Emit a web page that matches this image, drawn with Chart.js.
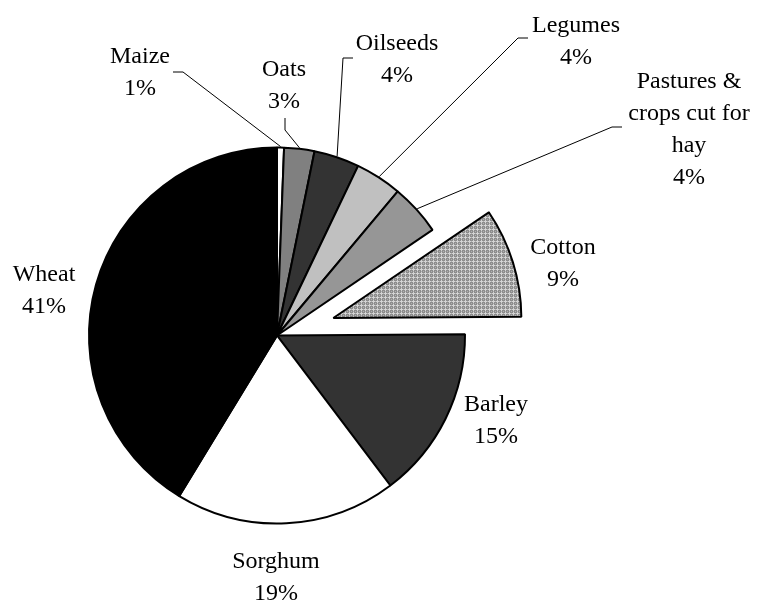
<!DOCTYPE html>
<html>
<head>
<meta charset="utf-8">
<script src="https://cdn.jsdelivr.net/npm/chart.js@4/dist/chart.umd.min.js"></script>
<style>
  body { margin: 0; background: #fff; }
  canvas { display: block; }
</style>
</head>
<body>
<canvas id="cropChart" width="757" height="603"></canvas>
<script>
// share of crop area (%)
const categories = ['Maize', 'Oats', 'Oilseeds', 'Legumes', ['Pastures &', 'crops cut for', 'hay'], 'Cotton', 'Barley', 'Sorghum', 'Wheat'];
const shares = [0.6, 2.6, 3.9, 4.0, 4.4, 9.4, 14.8, 19.0, 41.3];

const FONT = '24px "Liberation Serif", "Times New Roman", serif';
const LINE_H = 32;
const EXPLODED = 5;      // Cotton slice pulled out
const EXPLODE_PX = 59;

// label anchors: centre x, baseline of first line; leader: polyline start before it runs to the slice
const labelPos = [
    { x: 140, y: 63, leader: [[173, 72], [183, 72]] },
    { x: 284, y: 76, leader: [[285, 118], [285, 130]] },
    { x: 397, y: 50, leader: [[353, 58], [343, 58]] },
    { x: 576, y: 32, leader: [[528, 38], [518, 38]] },
    { x: 689, y: 88, leader: [[622, 127], [612, 127]] },
    { x: 563, y: 254 },
    { x: 496, y: 411 },
    { x: 276, y: 568 },
    { x: 44, y: 281 }
];

// grey cross-hatch fill for Cotton
function makeHatch() {
    const c = document.createElement('canvas');
    c.width = 4; c.height = 4;
    const g = c.getContext('2d');
    g.fillStyle = '#8c8c8c';
    g.fillRect(0, 0, 4, 4);
    g.fillStyle = '#d4d4d4';
    g.fillRect(1, 0, 1, 1); g.fillRect(0, 1, 1, 1);
    g.fillRect(1, 1, 1, 1); g.fillRect(2, 1, 1, 1); g.fillRect(1, 2, 1, 1);
    g.fillStyle = '#b0b0b0';
    g.fillRect(3, 3, 1, 1); g.fillRect(3, 1, 1, 1); g.fillRect(1, 3, 1, 1);
    return g.createPattern(c, 'repeat');
}

const ctx = document.getElementById('cropChart').getContext('2d');
const colors = ['#ffffff', '#808080', '#333333', '#c0c0c0', '#969696', makeHatch(), '#333333', '#ffffff', '#000000'];

const explodePlugin = {
    id: 'explode',
    afterDatasetUpdate(chart, args) {
        const area = chart.chartArea;
        const arc = args.meta.data[EXPLODED];
        if (!arc) return;
        const mid = (arc.startAngle + arc.endAngle) / 2;
        arc.x = (area.left + area.right) / 2 + Math.cos(mid) * EXPLODE_PX;
        arc.y = (area.top + area.bottom) / 2 + Math.sin(mid) * EXPLODE_PX;
    }
};

const labelPlugin = {
    id: 'sliceLabels',
    afterDatasetsDraw(chart) {
        const c = chart.ctx;
        const arcs = chart.getDatasetMeta(0).data;
        const total = shares.reduce((a, b) => a + b, 0);
        c.save();
        c.font = FONT;
        c.fillStyle = '#000';
        c.textAlign = 'center';
        c.textBaseline = 'alphabetic';
        c.strokeStyle = '#000';
        c.lineWidth = 1;
        categories.forEach((cat, i) => {
            const p = labelPos[i];
            const lines = [].concat(cat, Math.round(shares[i] / total * 100) + '%');
            lines.forEach((t, k) => c.fillText(t, p.x, p.y + k * LINE_H));
            if (p.leader) {
                const a = arcs[i];
                const mid = (a.startAngle + a.endAngle) / 2;
                const r = a.outerRadius + 1;
                c.beginPath();
                c.moveTo(p.leader[0][0], p.leader[0][1]);
                for (let k = 1; k < p.leader.length; k++) c.lineTo(p.leader[k][0], p.leader[k][1]);
                c.lineTo(a.x + Math.cos(mid) * r, a.y + Math.sin(mid) * r);
                c.stroke();
            }
        });
        c.restore();
    }
};

new Chart(ctx, {
    type: 'pie',
    data: {
        labels: categories,
        datasets: [{
            data: shares,
            backgroundColor: colors,
            borderColor: '#000',
            borderWidth: 2,
            hoverOffset: 0
        }]
    },
    options: {
        responsive: false,
        animation: false,
        radius: 188,
        layout: { padding: { left: 0, right: 203, top: 68, bottom: 0 } },
        events: [],
        plugins: {
            legend: { display: false },
            tooltip: { enabled: false }
        }
    },
    plugins: [explodePlugin, labelPlugin]
});
</script>
</body>
</html>
